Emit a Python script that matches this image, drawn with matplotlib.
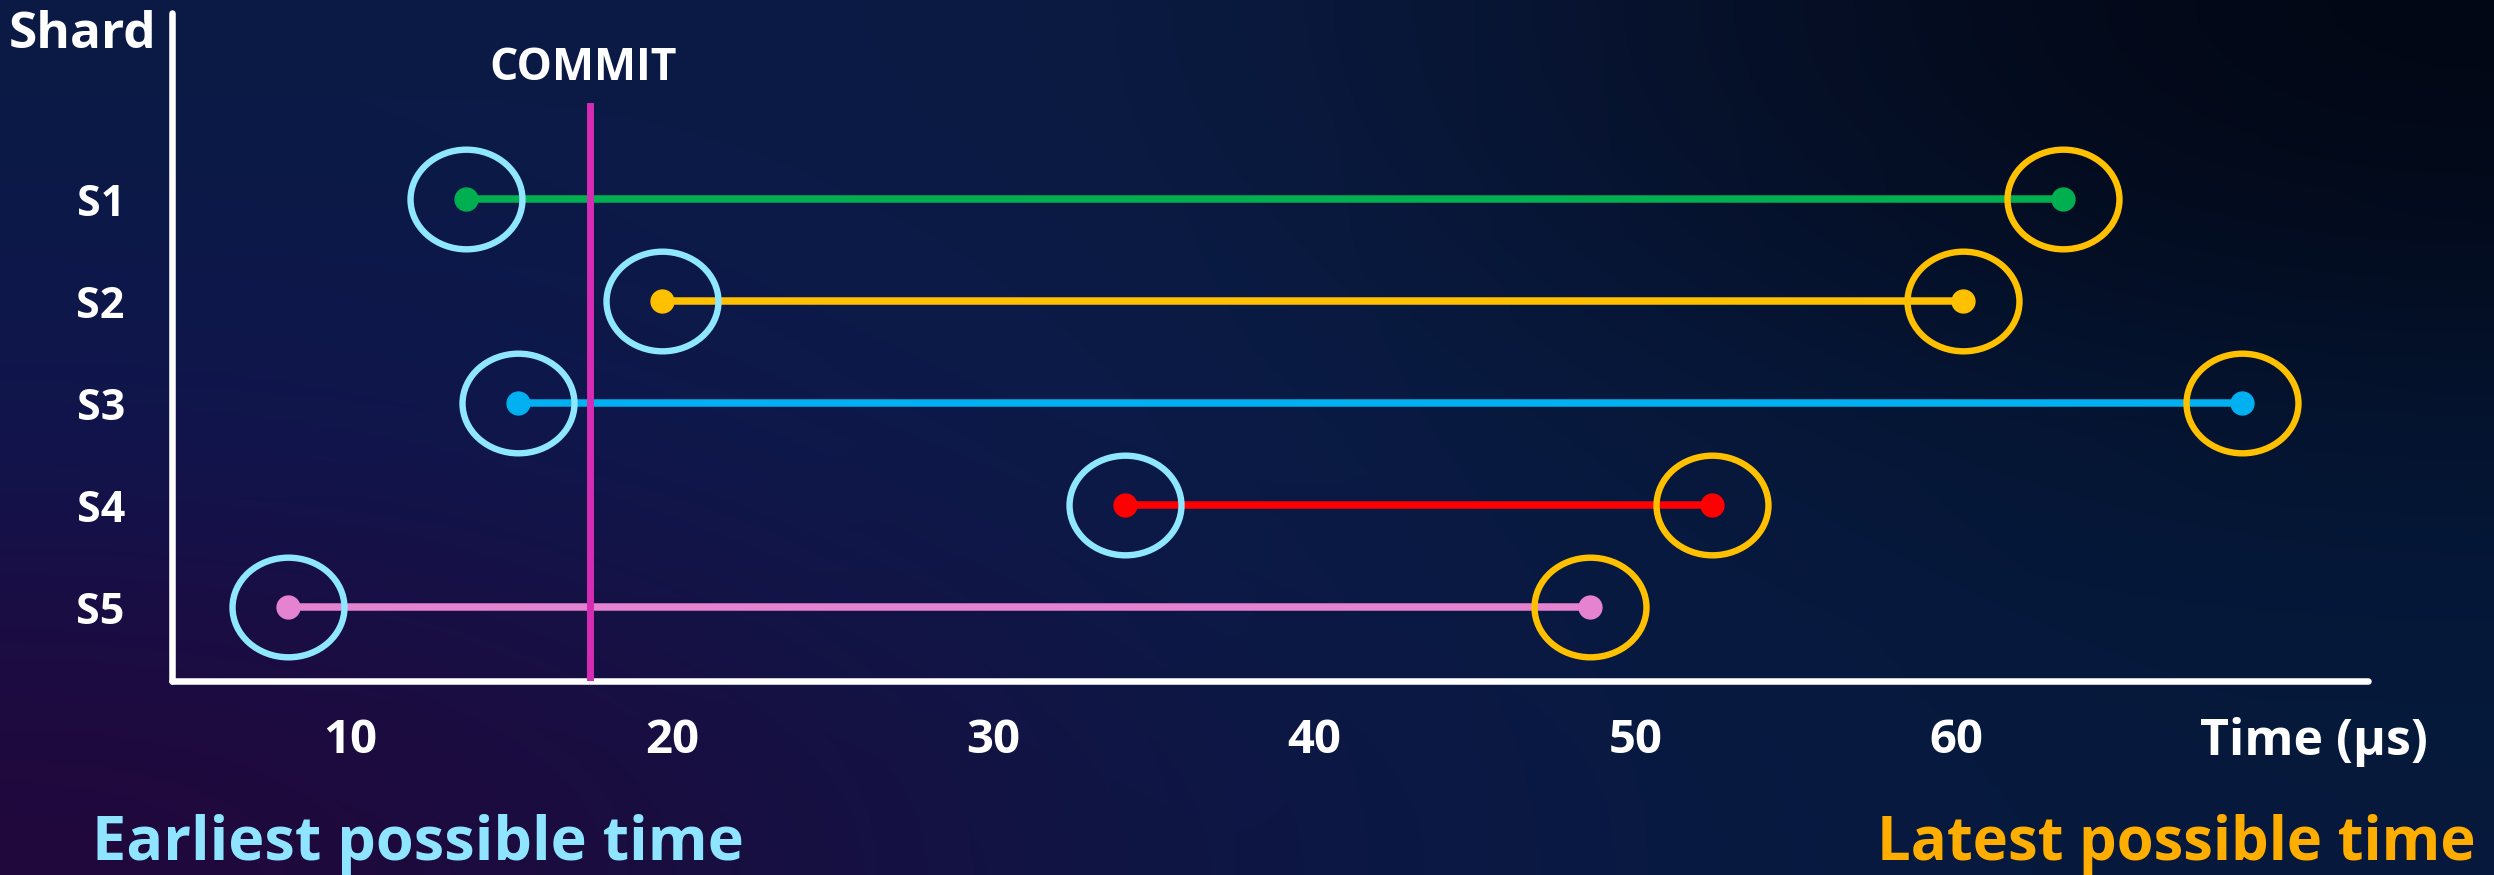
import numpy as np
import matplotlib.pyplot as plt
from matplotlib.path import Path
from matplotlib.transforms import Affine2D

plt.rcParams['font.family'] = ['Open Sans', 'DejaVu Sans']

# data (time in microseconds)
shards = ['S1', 'S2', 'S3', 'S4', 'S5']
rows = [1, 2, 3, 4, 5]
earliest = [13.6, 19.7, 15.2, 34.1, 8.05]
latest = [63.3, 60.2, 68.9, 52.4, 48.6]
line_colors = ['#00b050', '#ffc000', '#00b0f0', '#ff0000', '#e683d0']
commit_t = 17.45
xticks = [10, 20, 30, 40, 50, 60]
xlabels = ['10', '20', '30', '40', '50', '60']

W, H = 2494, 875
fig = plt.figure(figsize=(W / 100, H / 100), dpi=100)

# background gradient
bg = fig.add_axes([0, 0, 1, 1], zorder=0)
grid = np.array([
    [[0x0b, 0x1a, 0x45], [0x0b, 0x1d, 0x45], [0x02, 0x06, 0x12]],
    [[0x10, 0x15, 0x50], [0x0a, 0x1f, 0x4a], [0x04, 0x15, 0x32]],
    [[0x22, 0x07, 0x3b], [0x0b, 0x19, 0x48], [0x06, 0x1a, 0x3c]],
]) / 255.0
bg.imshow(grid, aspect='auto', interpolation='bicubic', extent=[0, 1, 0, 1])
bg.axis('off')

ax_l, ax_r, ax_t, ax_b = 172, 2368, 13, 681
ax = fig.add_axes([ax_l / W, 1 - ax_b / H, (ax_r - ax_l) / W, (ax_b - ax_t) / H], zorder=1)
ax.set_facecolor('none')
ax.set_xlim(4.44, 72.81)
ax.set_ylim(5.725, -0.824)

for s in ['top', 'right']:
    ax.spines[s].set_visible(False)
for s in ['left', 'bottom']:
    ax.spines[s].set_color('white')
    ax.spines[s].set_linewidth(4.7)
    ax.spines[s].set_capstyle('round')

ax.set_xticks(xticks, xlabels)
ax.set_yticks(rows, shards)
ax.tick_params(length=0)
ax.tick_params(axis='x', pad=26, labelsize=34, labelcolor='white')
ax.tick_params(axis='y', pad=34, labelsize=31, labelcolor='white')
for lab in ax.get_xticklabels() + ax.get_yticklabels():
    lab.set_fontweight('bold')

# interval lines with end dots
for r, a, b, c in zip(rows, earliest, latest, line_colors):
    ax.plot([a, b], [r, r], color=c, lw=5.4, solid_capstyle='butt', zorder=3)
    ax.plot([a, b], [r, r], ls='none', marker='o', ms=16.5, color=c, zorder=4)

# commit line
ax.axvline(commit_t, ymin=0, ymax=0.861, color='#d62bb5', lw=5, zorder=5)
ax.text(commit_t - 0.2, 0.90, 'COMMIT', transform=ax.get_xaxis_transform(),
        ha='center', va='baseline', fontsize=32, fontweight='bold', color='white')

# ellipses round the endpoints
ring = Path.unit_circle().transformed(Affine2D().scale(1, 0.89))
ax.plot(earliest, rows, ls='none', marker=ring, ms=80.6, mfc='none',
        mec='#8fe6ff', mew=4.6, zorder=6)
ax.plot(latest, rows, ls='none', marker=ring, ms=80.6, mfc='none',
        mec='#ffc000', mew=4.6, zorder=6)

fig.text(156 / W, 1 - 48 / H, 'Shard', ha='right', va='baseline',
         fontsize=37, fontweight='bold', color='white', zorder=2)
fig.text(2314 / W, 1 - 755 / H, 'Time (µs)', ha='center', va='baseline',
         fontsize=36, fontweight='bold', color='white', zorder=2)
fig.text(92 / W, 1 - 860 / H, 'Earliest possible time', ha='left', va='baseline',
         fontsize=44, fontweight='bold', color='#8fe5ff', zorder=2)
fig.text(2476 / W, 1 - 860 / H, 'Latest possible time', ha='right', va='baseline',
         fontsize=43, fontweight='bold', color='#ffae00', zorder=2)

fig.savefig('out.png', dpi=100)
